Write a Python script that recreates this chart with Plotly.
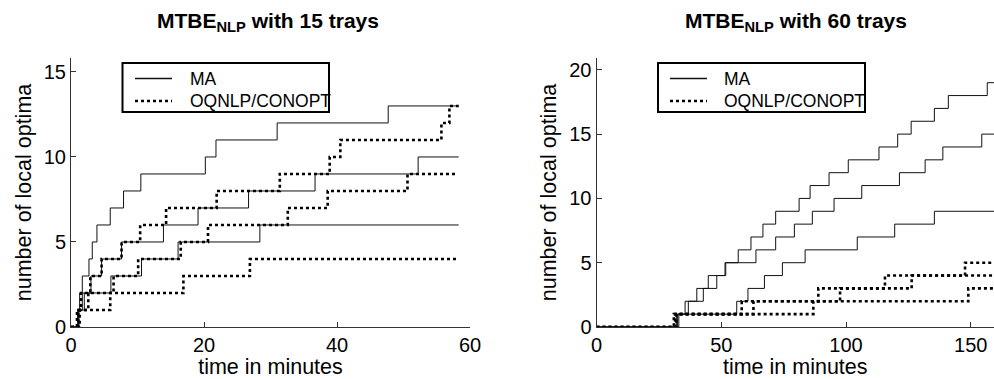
import plotly.graph_objects as go

# ---------------- data: MTBE_NLP with 15 trays (left) ----------------
l_ma1_t = [0, 1.0, 1.3, 1.7, 2.7, 3.2, 3.9, 5.9, 7.9, 10.5, 20.2, 21.8, 31.0, 47.7, 58.3]
l_ma1_n = [0, 1, 2, 3, 4, 5, 6, 7, 8, 9, 10, 11, 12, 13, 13]
l_ma2_t = [0, 1.1, 1.7, 3.0, 4.6, 7.6, 13.9, 19.1, 26.7, 36.7, 52.2, 58.3]
l_ma2_n = [0, 1, 2, 3, 4, 5, 6, 7, 8, 9, 10, 10]
l_ma3_t = [0, 1.2, 2.0, 6.0, 10.6, 16.1, 28.4, 58.3]
l_ma3_n = [0, 1, 2, 3, 4, 5, 6, 6]
l_oq1_t = [0, 0.9, 1.5, 2.9, 4.6, 7.6, 10.4, 14.3, 21.9, 31.4, 38.9, 40.5, 55.7, 56.9, 58.3]
l_oq1_n = [0, 1, 2, 3, 4, 5, 6, 7, 8, 9, 10, 11, 12, 13, 13]
l_oq2_t = [0, 1.3, 5.9, 6.4, 10.1, 16.5, 20.6, 32.6, 38.6, 50.6, 58.0]
l_oq2_n = [0, 1, 2, 3, 4, 5, 6, 7, 8, 9, 9]
l_oq3_t = [0, 1.1, 2.6, 16.9, 26.9, 58.3]
l_oq3_n = [0, 1, 2, 3, 4, 4]

# ---------------- data: MTBE_NLP with 60 trays (right) ----------------
r_ma1_t = [0, 32.0, 35.5, 40.2, 44.8, 51.5, 56.8, 61.9, 66.7, 71.8, 81.2, 85.6, 93.2,
           100.9, 113.2, 120.7, 126.1, 135.4, 141.0, 156.6, 160]
r_ma1_n = [0, 1, 2, 3, 4, 5, 6, 7, 8, 9, 10, 11, 12, 13, 14, 15, 16, 17, 18, 19, 19]
r_ma2_t = [0, 32.5, 36.8, 42.8, 48.2, 51.8, 63.9, 71.8, 79.3, 86.5, 95.2, 106.3, 121.4,
           131.7, 138.8, 154.4, 160]
r_ma2_n = [0, 1, 2, 3, 4, 5, 6, 7, 8, 9, 10, 11, 12, 13, 14, 15, 15]
r_ma3_t = [0, 33.0, 56.2, 60.7, 67.3, 74.5, 83.6, 104.5, 119.5, 135.4, 160]
r_ma3_n = [0, 1, 2, 3, 4, 5, 6, 7, 8, 9, 9]
r_oq1_t = [0, 31.5, 58.2, 88.9, 115.6, 147.7, 160]
r_oq1_n = [0, 1, 2, 3, 4, 5, 5]
r_oq2_t = [0, 31.0, 62.9, 97.6, 126.3, 160]
r_oq2_n = [0, 1, 2, 3, 4, 4]
r_oq3_t = [0, 32.0, 86.9, 149.0, 160]
r_oq3_n = [0, 1, 2, 3, 3]

left_x_ticks = [0, 20, 40, 60]
left_y_ticks = [0, 5, 10, 15]
right_x_ticks = [0, 50, 100, 150]
right_y_ticks = [0, 5, 10, 15, 20]

titles = ["<b>MTBE<sub>NLP</sub> with 15 trays</b>", "<b>MTBE<sub>NLP</sub> with 60 trays</b>"]
x_label = "time in minutes"
y_label = "number of local optima"
names = ["MA", "OQNLP/CONOPT"]

FONT = "Liberation Sans, Arial, Helvetica, sans-serif"
SOLID_COLOR = "#111111"
solid = dict(color=SOLID_COLOR, width=1, shape="hv")
dotted = dict(color="#000000", width=2.6, dash="3px,3px", shape="hv")

W, H = 994, 379
MT, MB = 58, 52
PLOT_H = H - MT - MB


def px(x):
    return x / W


def py(y):
    return (H - MB - y) / PLOT_H


fig = go.Figure()


def add(t, n, style, xa, ya, name):
    fig.add_trace(go.Scatter(x=t, y=n, mode="lines", line=style, xaxis=xa, yaxis=ya,
                             name=name, showlegend=False, hoverinfo="skip"))


for t, n in [(l_ma1_t, l_ma1_n), (l_ma2_t, l_ma2_n), (l_ma3_t, l_ma3_n)]:
    add(t, n, solid, "x", "y", names[0])
for t, n in [(l_oq1_t, l_oq1_n), (l_oq2_t, l_oq2_n), (l_oq3_t, l_oq3_n)]:
    add(t, n, dotted, "x", "y", names[1])
for t, n in [(r_ma1_t, r_ma1_n), (r_ma2_t, r_ma2_n), (r_ma3_t, r_ma3_n)]:
    add(t, n, solid, "x2", "y2", names[0])
for t, n in [(r_oq1_t, r_oq1_n), (r_oq2_t, r_oq2_n), (r_oq3_t, r_oq3_n)]:
    add(t, n, dotted, "x2", "y2", names[1])

axis_common = dict(showline=True, linecolor="#333333", linewidth=1, mirror=False,
                   ticks="inside", ticklen=5, tickcolor="#333333", showgrid=False,
                   zeroline=False, tickfont=dict(family=FONT, size=20, color="black"),
                   automargin=False)

# ---- legend boxes (drawn as shapes + text) ----
shapes = []
annotations = []
for (bx0, bx1, lx0, lx1, tx) in [(122.5, 329, 135, 172, 188), (658, 865, 670, 707, 721.5)]:
    shapes.append(dict(type="rect", xref="paper", yref="paper",
                       x0=px(bx0), x1=px(bx1), y0=py(112), y1=py(63),
                       line=dict(color="black", width=2), fillcolor="white", layer="above"))
    shapes.append(dict(type="line", xref="paper", yref="paper",
                       x0=px(lx0), x1=px(lx1), y0=py(78.5), y1=py(78.5),
                       line=dict(color=SOLID_COLOR, width=1.3), layer="above"))
    shapes.append(dict(type="line", xref="paper", yref="paper",
                       x0=px(lx0), x1=px(lx1), y0=py(101), y1=py(101),
                       line=dict(color="black", width=2.6, dash="3px,3px"), layer="above"))
    for name, yy in [(names[0], 78.5), (names[1], 101)]:
        annotations.append(dict(text=name, x=px(tx), y=py(yy), xref="paper", yref="paper",
                                xanchor="left", yanchor="middle", showarrow=False,
                                font=dict(family=FONT, size=17.5, color="black")))

for txt, cx in [(titles[0], 268), (titles[1], 796)]:
    annotations.append(dict(text=txt, x=px(cx), y=py(22), xref="paper", yref="paper",
                            xanchor="center", yanchor="middle", showarrow=False,
                            font=dict(family=FONT, size=21, color="black")))

fig.update_layout(
    width=W, height=H,
    margin=dict(l=0, r=0, t=MT, b=MB),
    paper_bgcolor="white", plot_bgcolor="white",
    font=dict(family=FONT, color="black"),
    showlegend=False,
    xaxis=dict(domain=[px(71), px(470)], range=[0, 60], tickvals=left_x_ticks,
               title=dict(text=x_label, font=dict(family=FONT, size=21.5), standoff=6),
               anchor="y", **axis_common),
    yaxis=dict(domain=[0, 1], range=[0, 15.82], tickvals=left_y_ticks,
               title=dict(text=y_label, font=dict(family=FONT, size=21.5), standoff=6),
               anchor="x", **axis_common),
    xaxis2=dict(domain=[px(596.5), 1.0], range=[0, 159.3], tickvals=right_x_ticks,
                title=dict(text=x_label, font=dict(family=FONT, size=21.5), standoff=6),
                anchor="y2", **axis_common),
    yaxis2=dict(domain=[0, 1], range=[0, 20.92], tickvals=right_y_ticks,
                title=dict(text=y_label, font=dict(family=FONT, size=21.5), standoff=6),
                anchor="x2", **axis_common),
    shapes=shapes,
    annotations=annotations,
)

fig.write_html("out.html")
